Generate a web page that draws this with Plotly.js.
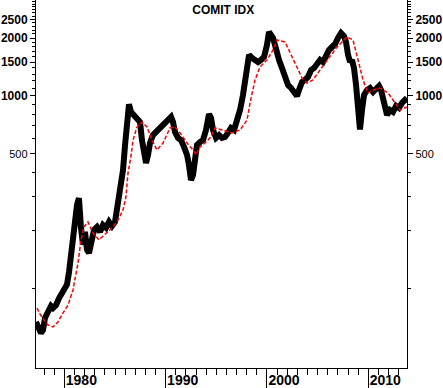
<!DOCTYPE html>
<html>
<head>
<meta charset="utf-8">
<script src="https://cdn.plot.ly/plotly-3.0.1.min.js"></script>
<style>html,body{margin:0;padding:0;background:#fff;}#chart{width:443px;height:388px;}</style>
</head>
<body>
<div id="chart"></div>
<script>
// COMIT index (black)
const idxYears = [1977.20,1977.40,1977.69,1977.89,1978.09,1978.38,1978.68,1978.88,1979.17,1979.47,1979.77,
1980.06,1980.26,1980.46,1980.66,1980.85,1981.05,1981.25,1981.44,1981.64,1981.84,1982.04,1982.23,1982.43,1982.63,1982.93,
1983.22,1983.52,1983.81,1984.11,1984.41,1984.70,1985.00,1985.20,1985.39,1985.59,1985.79,1985.99,1986.18,1986.38,1986.58,1986.87,
1987.17,1987.47,1987.66,1987.86,1988.06,1988.26,1988.45,1988.75,1989.05,1989.34,1989.64,1989.93,1990.23,1990.53,1990.72,1990.92,
1991.22,1991.51,1991.81,1992.11,1992.30,1992.50,1992.70,1992.90,1993.09,1993.39,1993.69,1993.98,1994.28,1994.48,1994.67,1994.97,
1995.27,1995.56,1995.86,1996.15,1996.45,1996.75,1997.04,1997.34,1997.63,1997.83,1998.03,1998.23,1998.52,1998.82,1999.12,1999.41,1999.71,
2000.00,2000.20,2000.40,2000.60,2000.79,2000.99,2001.19,2001.48,2001.78,2002.08,2002.37,2002.67,2002.96,2003.16,2003.46,2003.75,
2004.05,2004.35,2004.64,2004.94,2005.24,2005.53,2005.83,2006.12,2006.42,2006.72,2007.01,2007.31,2007.60,2007.80,2008.00,2008.20,
2008.39,2008.59,2008.79,2008.99,2009.18,2009.38,2009.58,2009.87,2010.17,2010.47,2010.77,2011.06,2011.26,2011.55,2011.85,2012.14,
2012.44,2012.74,2013.03,2013.33,2013.62,2013.82];
const idxValues = [67.1,62.3,58.7,60.8,70.5,75.6,81.2,79.3,82,89,93.9,
98.4,105,122,144,179,222,272,295,207,169,197,159,153,179,202,
209,197,214,207,222,211,222,256,288,325,413,557,769,905,826,797,
750,733,591,512,449,494,570,627,650,682,707,733,750,778,733,650,
606,591,544,494,438,366,389,465,557,577,591,666,806,769,666,606,
627,606,613,643,682,666,733,846,1012,1240,1538,1634,1576,1538,1501,1538,1595,
1840,2149,2073,1999,1840,1634,1538,1398,1286,1140,1100,1049,1000,1074,1182,1211,
1255,1365,1398,1466,1538,1501,1634,1733,1796,1862,1999,2123,2048,1908,1634,1501,
1538,1398,1140,898,670,846,1012,1074,1100,1049,1100,1127,1074,898,797,846,
826,888,866,920,953,977];

// moving average (red dashed)
const maYears = [1977.30,1977.59,1977.99,1978.38,1978.88,1979.37,1979.87,1980.36,1980.85,1981.15,1981.35,1981.64,1981.94,1982.33,
1982.83,1983.42,1984.11,1984.80,1985.29,1985.79,1986.08,1986.28,1986.58,1986.78,1987.17,1987.66,1988.16,1988.65,1989.14,1989.74,
1990.43,1990.92,1991.42,1992.11,1992.70,1993.00,1993.39,1993.88,1994.38,1994.87,1995.56,1996.55,1997.34,1998.03,1998.33,1998.82,
1999.31,2000.00,2000.60,2000.99,2001.78,2002.27,2002.77,2003.46,2003.95,2004.54,2005.24,2006.22,2006.91,2007.90,2008.49,2008.99,
2009.48,2009.97,2010.47,2011.16,2011.95,2012.44,2013.13,2013.82];
const maValues = [79.3,73.8,68.7,64.7,63.2,67.1,74.7,82,98.4,117.6,135.8,179,209,222,
194,179,194,209,227,256,299,398,488,591,690,733,690,591,524,570,
682,690,643,570,524,494,544,570,606,682,666,643,666,750,920,1211,
1414,1538,1733,1953,1908,1672,1483,1240,1168,1211,1365,1595,1796,2025,1953,1538,
1211,1036,1074,1100,1036,953,846,877];

const yLabelVals = [500,1000,1500,2000,2500];
const yLabelText = ['<span style="font-weight:normal;font-size:11px">500</span>','1000','1500','2000','2500'];
const yMinorVals = [100,200,300,400,600,700,800,900,1100,1200,1300,1400,1600,1700,1800,1900,2100,2200,2300,2400,2600,2700,2800,2900,3000,3100];
const xLabelVals = [1980,1990,2000,2010];
const xLabelText = ['1980','1990','2000','2010'];

const yRange = [Math.log10(38.7), Math.log10(3150)];

function yax(side){
  return {
    type:'log', range:yRange, side:side, showgrid:false, zeroline:false,
    showline:true, linecolor:'#000', linewidth:1,
    ticks:'outside', ticklen:5, tickwidth:1, tickcolor:'#000',
    tickmode:'array', tickvals:yLabelVals, ticktext:yLabelText,
    tickfont:{family:'Liberation Sans, Arial, sans-serif', size:12, color:'#000', weight:'bold'},
    minor:{tickmode:'array', tickvals:yMinorVals, ticks:'outside', ticklen:3, tickwidth:1, tickcolor:'#000', showgrid:false},
    fixedrange:true
  };
}

const data = [
  {x:idxYears, y:idxValues, type:'scatter', mode:'lines', line:{color:'#000', width:6, shape:'linear'}, hoverinfo:'skip', showlegend:false},
  {x:maYears, y:maValues, type:'scatter', mode:'lines', line:{color:'#ff0000', width:1.5, dash:'4px,2px'}, hoverinfo:'skip', showlegend:false, yaxis:'y2'}
];

const y2 = yax('right');
y2.overlaying = 'y';

const layout = {
  width:443, height:388,
  margin:{l:36, r:36, t:0, b:20, pad:0},
  paper_bgcolor:'#fff', plot_bgcolor:'#fff',
  showlegend:false,
  title:{text:'<b>COMIT IDX</b>', font:{family:'Liberation Sans, Arial, sans-serif', size:12, color:'#000'}, xref:'container', yref:'container', x:0.504, y:0.975, xanchor:'center', yanchor:'middle'},
  xaxis:{
    range:[1977.2, 2013.82], showgrid:false, zeroline:false,
    showline:true, linecolor:'#000', linewidth:1,
    ticks:'outside', ticklen:20, tickwidth:1, tickcolor:'#000',
    tickmode:'array', tickvals:xLabelVals, ticktext:xLabelText,
    tickfont:{family:'Liberation Sans, Arial, sans-serif', size:14, color:'#000', weight:'bold'},
    ticklabelshift:17, ticklabelstandoff:-21,
    minor:{dtick:1, tick0:1978, ticks:'outside', ticklen:6, tickwidth:1, tickcolor:'#000', showgrid:false},
    fixedrange:true
  },
  yaxis:yax('left'),
  yaxis2:y2
};

Plotly.newPlot('chart', data, layout, {staticPlot:true, displayModeBar:false});
</script>
</body>
</html>
